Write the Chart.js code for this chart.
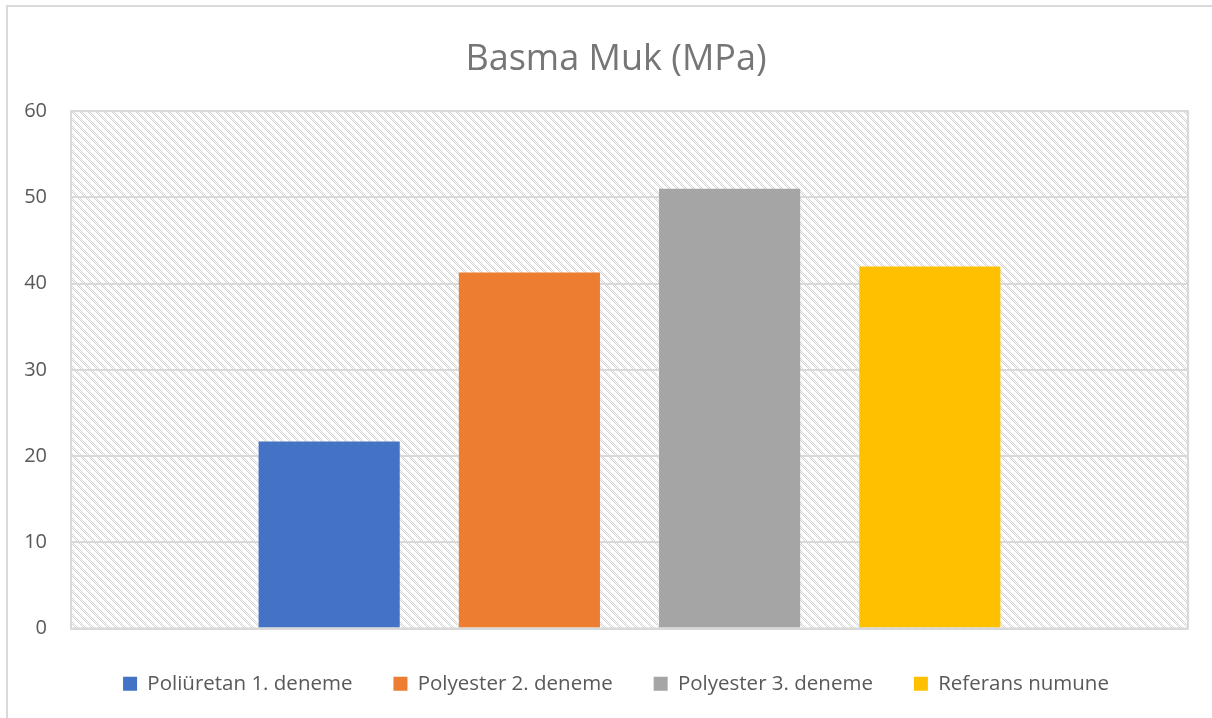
<!DOCTYPE html>
<html>
<head>
<meta charset="utf-8">
<script src="https://cdn.jsdelivr.net/npm/chart.js@4.4.0/dist/chart.umd.min.js"></script>
<style>
    html, body { margin: 0; padding: 0; background: #ffffff; overflow: hidden; }
</style>
</head>
<body>
<canvas id="basmaChart" width="1212" height="718"></canvas>
<script>
// data
var chartTitle = 'Basma Muk (MPa)';
var categories = [''];
var seriesNames = ['Poliüretan 1. deneme', 'Polyester 2. deneme', 'Polyester 3. deneme', 'Referans numune'];
var seriesValues = [21.7, 41.3, 51.0, 42.0];
var seriesColors = ['#4472C4', '#ED7D31', '#A5A5A5', '#FFC000'];
var yMin = 0;
var yMax = 60;
var yStep = 10;

// diagonal hatch like the excel plot area fill
function makeHatch(ctx) {
    var c = document.createElement('canvas');
    c.width = 8;
    c.height = 8;
    var g = c.getContext('2d');
    g.fillStyle = '#ffffff';
    g.fillRect(0, 0, 8, 8);
    g.fillStyle = '#d4d4d4';
    for (var y = 0; y < 8; y++) {
        for (var x = 0; x < 8; x++) {
            var d = (x - y + 16) % 8;
            if (d < 4 && (x + y) % 2 === 0) {
                g.fillRect(x, y, 1, 1);
            }
        }
    }
    return ctx.createPattern(c, 'repeat');
}

var plotFrame = {
    id: 'plotFrame',
    afterLayout: function (chart) {
        // title and legend sit centred a bit right of the canvas middle
        chart.titleBlock.left += 44;
        chart.legend.left += 44;
        chart.legend.top += 4;
    },
    beforeDraw: function (chart) {
        var ctx = chart.ctx;
        var a = chart.chartArea;
        ctx.save();
        // outer chart border (only top and left visible in the crop)
        ctx.strokeStyle = '#d9d9d9';
        ctx.lineWidth = 2;
        ctx.beginPath();
        ctx.moveTo(7, 730);
        ctx.lineTo(7, 6);
        ctx.lineTo(1230, 6);
        ctx.stroke();
        // hatched plot area
        ctx.fillStyle = makeHatch(ctx);
        ctx.fillRect(a.left, a.top, a.right - a.left, a.bottom - a.top);
        ctx.restore();
    },
    afterDraw: function (chart) {
        var ctx = chart.ctx;
        var a = chart.chartArea;
        ctx.save();
        ctx.strokeStyle = '#d9d9d9';
        ctx.lineWidth = 2;
        ctx.strokeRect(a.left, a.top, a.right - a.left, a.bottom - a.top);
        ctx.restore();
    }
};

var datasets = [];
for (var i = 0; i < seriesNames.length; i++) {
    datasets.push({
        label: seriesNames[i],
        data: [seriesValues[i]],
        backgroundColor: seriesColors[i],
        borderWidth: 0,
        categoryPercentage: 0.717,
        barPercentage: 0.705
    });
}

var barChart = new Chart(document.getElementById('basmaChart'), {
    type: 'bar',
    data: {
        labels: categories,
        datasets: datasets
    },
    options: {
        responsive: false,
        animation: false,
        layout: {
            padding: {left: 0, right: 24, top: 0, bottom: 18}
        },
        plugins: {
            title: {
                display: true,
                text: chartTitle,
                color: '#767676',
                font: {family: 'Open Sans', size: 36, weight: 'normal'},
                padding: {top: 38, bottom: 30}
            },
            legend: {
                position: 'bottom',
                labels: {
                    color: '#595959',
                    font: {family: 'Open Sans', size: 20.5},
                    boxWidth: 14,
                    boxHeight: 14,
                    padding: 41
                }
            },
            tooltip: {enabled: false}
        },
        scales: {
            x: {
                display: false
            },
            y: {
                min: yMin,
                max: yMax,
                border: {display: false},
                grid: {color: '#d9d9d9', lineWidth: 2, drawTicks: false},
                ticks: {
                    stepSize: yStep,
                    color: '#595959',
                    font: {family: 'Open Sans', size: 20},
                    padding: 24
                },
                afterFit: function (scale) {
                    scale.width = 71;
                }
            }
        }
    },
    plugins: [plotFrame]
});
</script>
</body>
</html>
